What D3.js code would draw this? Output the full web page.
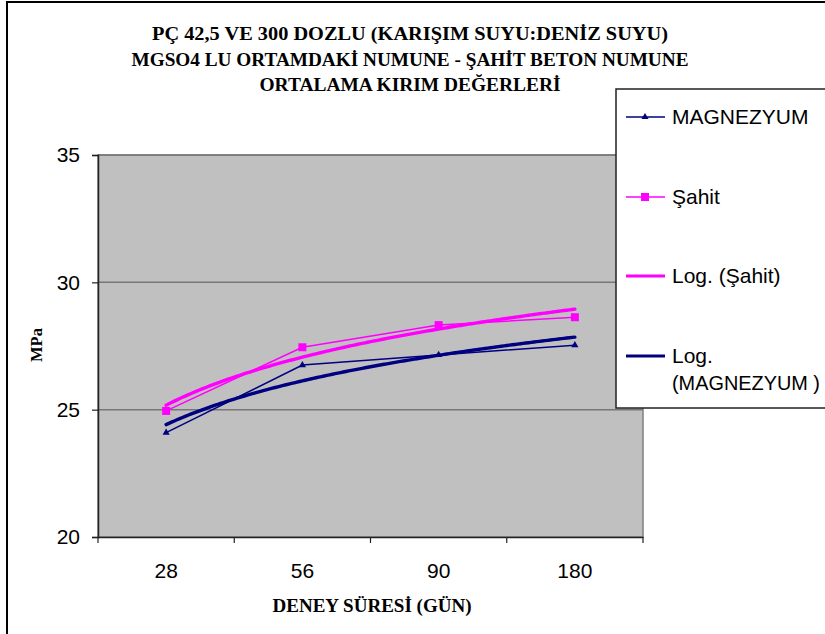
<!DOCTYPE html>
<html><head><meta charset="utf-8">
<script src="https://cdn.jsdelivr.net/npm/d3@7"></script>
<style>body{margin:0;background:#fff}svg{display:block}</style>
</head><body><svg id="c" width="825" height="634"></svg>
<script>
const categories = ["28", "56", "90", "180"];
const magnezyum = [24.1, 26.75, 27.15, 27.53];
const sahit = [24.95, 27.45, 28.32, 28.63];
const yTicks = [20, 25, 30, 35];
const titleLines = [
  "PÇ 42,5 VE 300 DOZLU (KARIŞIM SUYU:DENİZ SUYU)",
  "MGSO4 LU ORTAMDAKİ NUMUNE - ŞAHİT BETON NUMUNE",
  "ORTALAMA KIRIM DEĞERLERİ"
];
const titleWidths = [516, 557, 301];
const legendLabels = ["MAGNEZYUM", "Şahit", "Log. (Şahit)", ["Log.", "(MAGNEZYUM )"]];

const svg = d3.select("#c");
const L = 98, R = 643, T = 155, B = 537;
const x = d3.scaleBand().domain(categories).range([L, R]).padding(0);
const cx = c => x(c) + x.bandwidth() / 2;
const y = d3.scaleLinear().domain([20, 35]).range([B, T]);

// chart border
svg.append("rect").attr("x", 7).attr("y", 2).attr("width", 840).attr("height", 660)
  .attr("fill", "#fff").attr("stroke", "#000").attr("stroke-width", 2);

// plot area
svg.append("rect").attr("x", L).attr("y", T).attr("width", R - L).attr("height", B - T)
  .attr("fill", "#C0C0C0").attr("stroke", "#808080").attr("stroke-width", 1.5);

// gridlines
svg.append("g").selectAll("line").data(yTicks.filter(v => v > 20)).join("line")
  .attr("x1", L).attr("x2", R).attr("y1", d => y(d)).attr("y2", d => y(d))
  .attr("stroke", "#777").attr("stroke-width", 1.5);

// y axis
const ya = svg.append("g").attr("transform", `translate(${L},0)`)
  .call(d3.axisLeft(y).tickValues(yTicks).tickSize(6).tickPadding(12).tickFormat(d3.format("d")));
ya.select(".domain").attr("stroke", "#222").attr("stroke-width", 1.5);
ya.selectAll(".tick line").attr("stroke", "#222").attr("stroke-width", 1.2);
ya.selectAll("text").attr("font-family", "Liberation Sans, Arial, sans-serif")
  .attr("font-size", 21).attr("fill", "#000");

// x axis
const xa = svg.append("g").attr("transform", `translate(0,${B})`)
  .call(d3.axisBottom(x).tickSize(0).tickPadding(26));
xa.select(".domain").attr("stroke", "#222").attr("stroke-width", 1.5);
xa.selectAll("text").attr("font-family", "Liberation Sans, Arial, sans-serif")
  .attr("font-size", 21).attr("fill", "#000");
const bounds = categories.map(c => x(c)).concat([x.range()[1]]);
xa.selectAll(".btick").data(bounds).join("line").attr("class", "btick")
  .attr("x1", d => d).attr("x2", d => d).attr("y1", 0).attr("y2", 6)
  .attr("stroke", "#222").attr("stroke-width", 1.2);

// log trendlines (least squares fit of y = a ln(i) + b, i = 1..n)
function logFit(vals) {
  const xs = vals.map((v, i) => Math.log(i + 1));
  const mx = d3.mean(xs), my = d3.mean(vals);
  const a = d3.sum(xs, (xv, i) => (xv - mx) * (vals[i] - my)) / d3.sum(xs, xv => (xv - mx) ** 2);
  const b = my - a * mx;
  return t => a * Math.log(t) + b;
}
const xi = d3.scaleLinear().domain([1, categories.length]).range([cx(categories[0]), cx(categories[categories.length - 1])]);
const samples = d3.range(1, categories.length + 0.0001, 0.02);
const lineGen = d3.line().x(d => d[0]).y(d => d[1]);
function drawTrend(vals, color) {
  const f = logFit(vals);
  svg.append("path").attr("d", lineGen(samples.map(t => [xi(t), y(f(t))])))
    .attr("fill", "none").attr("stroke", color).attr("stroke-width", 3.4).attr("stroke-linecap", "round");
}

// data series
const dl = d3.line().x((d, i) => cx(categories[i])).y(d => y(d));
svg.append("path").attr("d", dl(magnezyum)).attr("fill", "none").attr("stroke", "#000080").attr("stroke-width", 1.5);
svg.append("path").attr("d", dl(sahit)).attr("fill", "none").attr("stroke", "#FF00FF").attr("stroke-width", 1.5);
drawTrend(sahit, "#FF00FF");
drawTrend(magnezyum, "#000080");
const tri = d3.symbol().type(d3.symbolTriangle).size(22);
svg.append("g").selectAll("path").data(magnezyum).join("path")
  .attr("transform", (d, i) => `translate(${cx(categories[i])},${y(d)})`).attr("d", tri).attr("fill", "#000080");
svg.append("g").selectAll("rect").data(sahit).join("rect")
  .attr("x", (d, i) => cx(categories[i]) - 4).attr("y", d => y(d) - 4)
  .attr("width", 8).attr("height", 8).attr("fill", "#FF00FF");

// titles
const tt = svg.append("g").attr("font-family", "Liberation Serif, Times New Roman, serif")
  .attr("font-weight", "bold").attr("font-size", 19.5).attr("text-anchor", "middle");
tt.selectAll("text").data(titleLines).join("text")
  .attr("x", 410).attr("y", (d, i) => 40 + i * 25.5)
  .attr("textLength", (d, i) => titleWidths[i]).attr("lengthAdjust", "spacingAndGlyphs").text(d => d);
svg.append("text").attr("x", 372).attr("y", 612).attr("text-anchor", "middle")
  .attr("font-family", "Liberation Serif, Times New Roman, serif").attr("font-weight", "bold")
  .attr("font-size", 18).attr("textLength", 199).attr("lengthAdjust", "spacingAndGlyphs")
  .text("DENEY SÜRESİ (GÜN)");
svg.append("text").attr("transform", "translate(42,345) rotate(-90)").attr("text-anchor", "middle")
  .attr("font-family", "Liberation Serif, Times New Roman, serif").attr("font-weight", "bold")
  .attr("font-size", 16.5).text("MPa");

// legend
svg.append("rect").attr("x", 616).attr("y", 89).attr("width", 240).attr("height", 319)
  .attr("fill", "#fff").attr("stroke", "#222").attr("stroke-width", 1.5);
const legY = [117, 197, 276, 356];
const lg = svg.append("g").attr("font-family", "Liberation Sans, Arial, sans-serif").attr("font-size", 21);
const legStyles = [
  {c: "#000080", w: 1.5, m: "tri"}, {c: "#FF00FF", w: 1.5, m: "sq"},
  {c: "#FF00FF", w: 3, m: null}, {c: "#000080", w: 3, m: null}
];
legendLabels.forEach((lab, i) => {
  const yy = legY[i], s = legStyles[i];
  lg.append("line").attr("x1", 626).attr("x2", 665).attr("y1", yy).attr("y2", yy)
    .attr("stroke", s.c).attr("stroke-width", s.w);
  if (s.m === "tri") lg.append("path").attr("transform", `translate(645,${yy})`).attr("d", tri).attr("fill", s.c);
  if (s.m === "sq") lg.append("rect").attr("x", 641).attr("y", yy - 4).attr("width", 8).attr("height", 8).attr("fill", s.c);
  const lines = Array.isArray(lab) ? lab : [lab];
  lines.forEach((t, j) => lg.append("text").attr("x", 672).attr("y", yy + 7 + j * 27)
    .attr("textLength", j === 1 ? 148 : null).attr("lengthAdjust", "spacingAndGlyphs").text(t));
});
</script></body></html>
